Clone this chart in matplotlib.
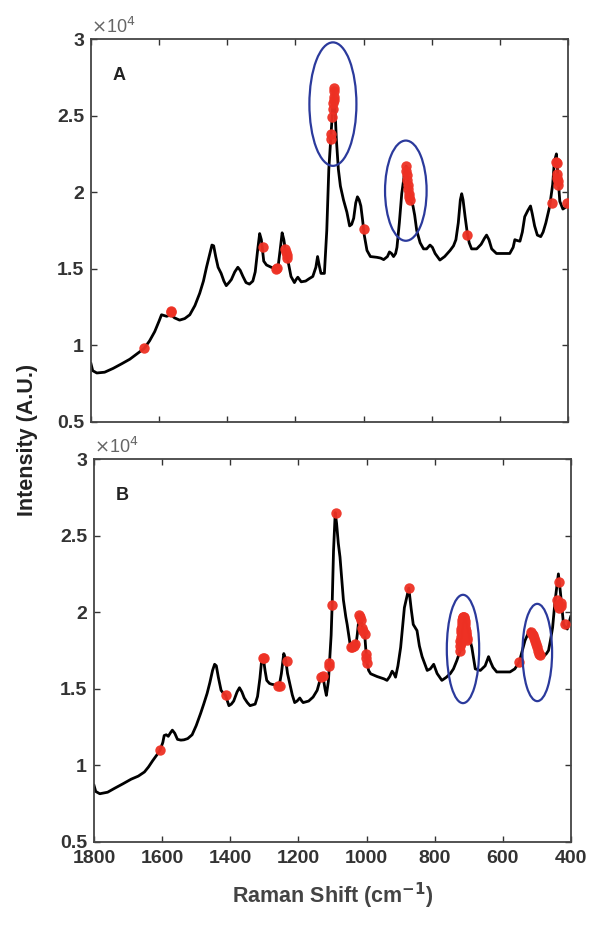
import numpy as np
import matplotlib
matplotlib.use("Agg")
import matplotlib.pyplot as plt
from matplotlib.patches import Ellipse

plt.rcParams['font.family'] = ['Liberation Sans', 'DejaVu Sans']

# intensities are in units of 1e4 (axis shows x10^4)
shift_a = [1800, 1795, 1783, 1760, 1735, 1710, 1686, 1665, 1644, 1628, 1613, 1600, 1593, 1585,
           1578, 1565, 1555, 1540, 1525, 1510, 1495, 1481, 1470, 1461, 1452, 1445, 1440, 1434,
           1427, 1418, 1410, 1403, 1395, 1388, 1378, 1369, 1362, 1354, 1345, 1335, 1325, 1318,
           1311, 1305, 1300, 1293, 1285, 1271, 1260, 1250, 1245, 1239, 1234, 1228, 1220, 1213,
           1203, 1198, 1193, 1188, 1183, 1170, 1160, 1149, 1140, 1135, 1130, 1125, 1115, 1108,
           1102, 1096, 1092, 1088, 1084, 1080, 1074, 1068, 1059, 1049, 1041, 1035, 1029, 1023,
           1018, 1013, 1008, 1003, 998, 990, 980, 961, 950, 941, 930, 924, 918, 912, 906, 902,
           895, 888, 880, 875, 870, 862, 855, 850, 844, 834, 824, 815, 805, 798, 790, 776, 762,
           746, 736, 729, 722, 716, 712, 708, 702, 696, 690, 683, 668, 655, 645, 639, 632, 624,
           610, 590, 571, 561, 556, 550, 541, 534, 527, 518, 510, 505, 498, 490, 480, 473, 465,
           454, 445, 440, 434, 430, 424, 415, 408, 400]
int_a = [0.88, 0.835, 0.82, 0.825, 0.85, 0.88, 0.91, 0.945, 0.98, 1.03, 1.09, 1.16, 1.20, 1.195,
         1.19, 1.20, 1.18, 1.165, 1.175, 1.20, 1.26, 1.34, 1.42, 1.51, 1.59, 1.655, 1.65, 1.58,
         1.51, 1.47, 1.42, 1.39, 1.41, 1.43, 1.48, 1.51, 1.49, 1.45, 1.41, 1.40, 1.42, 1.48,
         1.62, 1.73, 1.69, 1.55, 1.525, 1.51, 1.50, 1.53, 1.62, 1.735, 1.69, 1.60, 1.53, 1.45,
         1.41, 1.43, 1.445, 1.43, 1.415, 1.42, 1.435, 1.45, 1.51, 1.58, 1.52, 1.47, 1.47, 1.75,
         2.15, 2.36, 2.50, 2.68, 2.55, 2.35, 2.15, 2.04, 1.95, 1.87, 1.78, 1.79, 1.83, 1.93,
         1.97, 1.95, 1.91, 1.82, 1.72, 1.62, 1.58, 1.575, 1.57, 1.56, 1.58, 1.61, 1.60, 1.58, 1.60, 1.64,
         1.80, 1.99, 2.12, 2.17, 2.08, 1.95, 1.91, 1.85, 1.75, 1.67, 1.63, 1.63, 1.655, 1.64, 1.60, 1.557, 1.58,
         1.62, 1.65, 1.69, 1.80, 1.95, 1.99, 1.95, 1.84, 1.74, 1.67, 1.63, 1.63, 1.66, 1.70, 1.72, 1.69, 1.63,
         1.60, 1.60, 1.60, 1.64, 1.69, 1.685, 1.68, 1.74, 1.84, 1.88, 1.91, 1.86, 1.78, 1.72, 1.71, 1.74, 1.80,
         1.905, 2.05, 2.20, 2.25, 2.12, 1.94, 1.89, 1.90, 1.925]

shift_b = [1800, 1795, 1783, 1760, 1740, 1715, 1691, 1670, 1652, 1640, 1628, 1615, 1606, 1598,
           1594, 1588, 1582, 1575, 1570, 1563, 1555, 1545, 1536, 1525, 1512, 1500, 1487, 1478,
           1468, 1460, 1452, 1446, 1441, 1435, 1427, 1420, 1414, 1404, 1397, 1390, 1380, 1373,
           1366, 1359, 1350, 1342, 1327, 1320, 1313, 1308, 1303, 1298, 1293, 1285, 1279, 1268,
           1259, 1254, 1250, 1243, 1238, 1232, 1225, 1218, 1211, 1204, 1196, 1190, 1186, 1170,
           1157, 1145, 1135, 1128, 1122, 1118, 1112, 1109, 1104, 1101, 1097, 1092, 1088, 1083,
           1078, 1068, 1061, 1057, 1049, 1045, 1038, 1032, 1027, 1022, 1018, 1013, 1006, 1002,
           998, 994, 988, 969, 949, 940, 932, 925, 920, 915, 908, 900, 889, 876, 869, 863, 852,
           845, 837, 822, 813, 803, 793, 779, 766, 754, 745, 735, 725, 718, 713, 707, 700, 691,
           681, 666, 652, 642, 635, 629, 618, 600, 579, 565, 552, 543, 535, 520, 510, 500, 490,
           481, 472, 466, 460, 454, 447, 437, 432, 427, 422, 416, 411, 401]
int_b = [0.87, 0.83, 0.815, 0.825, 0.85, 0.88, 0.91, 0.93, 0.957, 0.99, 1.03, 1.07, 1.10, 1.15,
         1.195, 1.20, 1.19, 1.215, 1.23, 1.21, 1.17, 1.165, 1.167, 1.175, 1.20, 1.26, 1.34, 1.40,
         1.47, 1.54, 1.62, 1.66, 1.65, 1.575, 1.49, 1.47, 1.457, 1.39, 1.40, 1.42, 1.48, 1.507,
         1.48, 1.44, 1.41, 1.39, 1.40, 1.45, 1.57, 1.685, 1.70, 1.62, 1.555, 1.535, 1.53, 1.525,
         1.517, 1.55, 1.60, 1.73, 1.70, 1.60, 1.53, 1.46, 1.41, 1.42, 1.44, 1.42, 1.41, 1.42,
         1.446, 1.49, 1.57, 1.58, 1.50, 1.457, 1.55, 1.66, 1.85, 2.05, 2.40, 2.65, 2.58, 2.45,
         2.36, 2.08, 1.97, 1.92, 1.80, 1.77, 1.78, 1.77, 1.86, 1.97, 1.98, 1.90, 1.87, 1.75,
         1.66, 1.62, 1.598, 1.58, 1.565, 1.555, 1.58, 1.615, 1.60, 1.576, 1.65, 1.77, 2.03, 2.157, 2.02, 1.92, 1.88,
         1.78, 1.71, 1.62, 1.63, 1.66, 1.60, 1.555, 1.575, 1.60, 1.63, 1.685, 1.75, 1.90, 1.97, 1.93, 1.85, 1.77,
         1.63, 1.62, 1.65, 1.71, 1.67, 1.64, 1.61, 1.61, 1.61, 1.63, 1.674, 1.75, 1.815, 1.89, 1.87, 1.80, 1.72,
         1.71, 1.73, 1.75, 1.82, 1.90, 2.07, 2.25, 2.15, 2.04, 1.92, 1.90, 1.89, 1.97]

# selected variables (red dots)
sel_x_a = [1644, 1566, 1564, 1296, 1258, 1255, 1230, 1228, 1226, 1224,
           1095, 1095, 1092, 1090, 1089, 1088, 1087, 1088, 1086, 1000,
           876, 875, 873, 872, 870, 869, 867, 866, 864, 696,
           446, 434, 433, 432, 431, 430, 429, 403]
sel_y_a = [0.98, 1.225, 1.215, 1.64, 1.50, 1.505, 1.63, 1.61, 1.59, 1.57,
           2.35, 2.38, 2.49, 2.54, 2.58, 2.62, 2.66, 2.68, 2.60, 1.76,
           2.17, 2.14, 2.11, 2.08, 2.05, 2.02, 1.99, 1.97, 1.95, 1.72,
           1.93, 2.20, 2.19, 2.12, 2.09, 2.07, 2.05, 1.93]

sel_x_b = [1606, 1414, 1303, 1300, 1259, 1255, 1235, 1133, 1128, 1110, 1109, 1101, 1090,
           1047, 1042, 1037, 1033, 1022, 1019, 1016, 1013, 1010, 1006, 1003, 1001, 1000,
           876,
           727, 726, 725, 724, 723, 722, 721, 720, 719, 718, 717, 716, 715, 714, 713, 712,
           711, 710, 709, 708, 707, 706, 705,
           724, 721, 718, 715, 712, 709,
           552,
           518, 515, 512, 509, 506, 503, 500, 497, 494, 492,
           435, 441, 438, 436, 430, 428, 418]
sel_y_b = [1.10, 1.457, 1.70, 1.70, 1.517, 1.52, 1.68, 1.575, 1.585, 1.65, 1.67, 2.05, 2.65,
           1.77, 1.775, 1.78, 1.79, 1.98, 1.97, 1.95, 1.90, 1.88, 1.86, 1.73, 1.70, 1.67,
           2.157,
           1.75, 1.78, 1.81, 1.84, 1.87, 1.89, 1.91, 1.93, 1.95, 1.96, 1.97, 1.97, 1.97, 1.96,
           1.95, 1.94, 1.92, 1.90, 1.88, 1.86, 1.84, 1.83, 1.82,
           1.80, 1.86, 1.90, 1.92, 1.90, 1.86,
           1.674,
           1.87, 1.86, 1.85, 1.83, 1.81, 1.79, 1.77, 1.75, 1.73, 1.72,
           2.196, 2.08, 2.05, 2.03, 2.06, 2.04, 1.92]

# highlighted regions: centre shift, centre intensity, width, height
ell_a = [(1090, 2.575, 138, 0.806), (876, 2.01, 122, 0.654)]
ell_b = [(717, 1.76, 95, 0.707), (499, 1.737, 87, 0.635)]

fig = plt.figure(figsize=(6.02, 9.25), dpi=100)
ax_a = fig.add_axes([91 / 602, 1 - 422 / 925, 477 / 602, 383 / 925])
ax_b = fig.add_axes([94 / 602, 1 - 842 / 925, 477 / 602, 383 / 925])

tc = '#333333'
panels = [(ax_a, shift_a, int_a, sel_x_a, sel_y_a, ell_a, 'A'),
          (ax_b, shift_b, int_b, sel_x_b, sel_y_b, ell_b, 'B')]
for ax, sx, sy, px, py, ells, lab in panels:
    ax.plot(sx, sy, color='black', lw=2.0, zorder=2)
    ax.plot(px, py, 'o', color='#ee3124', ms=7.5, mec='none', alpha=0.95, zorder=3)
    for cx, cy, w, h in ells:
        ax.add_patch(Ellipse((cx, cy), w, h, fill=False, ec='#2b3a9c', lw=1.6, zorder=4))
    ax.set_xlim(1800, 400)
    ax.set_ylim(0.5, 3)
    ax.set_xticks([1800, 1600, 1400, 1200, 1000, 800, 600, 400])
    ax.set_yticks([0.5, 1, 1.5, 2, 2.5, 3])
    ax.set_yticklabels(['0.5', '1', '1.5', '2', '2.5', '3'])
    ax.tick_params(direction='in', top=True, right=True, length=4, width=1,
                   colors=tc, labelsize=14)
    ax.tick_params(axis='x', pad=6)
    ax.tick_params(axis='y', pad=5)
    for t in ax.get_xticklabels() + ax.get_yticklabels():
        t.set_fontweight('bold')
    for s in ax.spines.values():
        s.set_color('#444444')
        s.set_linewidth(1.3)
    ax.text(0.046, 0.906, lab, transform=ax.transAxes, fontsize=13, fontweight='bold',
            color='#222222', va='center', ha='left')
    ax.text(0.0, 1.005, r'$\times$10$^{4}$', transform=ax.transAxes, fontsize=13,
            color='#666666', va='bottom', ha='left')

ax_a.tick_params(labelbottom=False)
ax_b.set_xlabel('Raman Shift (cm$^{\\mathbf{-1}}$)', fontsize=15.5, fontweight='bold',
                color='#444444', labelpad=10)
fig.text(0.045, 0.524, 'Intensity (A.U.)', rotation=90, fontsize=15.5, fontweight='bold',
         color='#222222', va='center', ha='center')

fig.savefig('out.png', dpi=100)
